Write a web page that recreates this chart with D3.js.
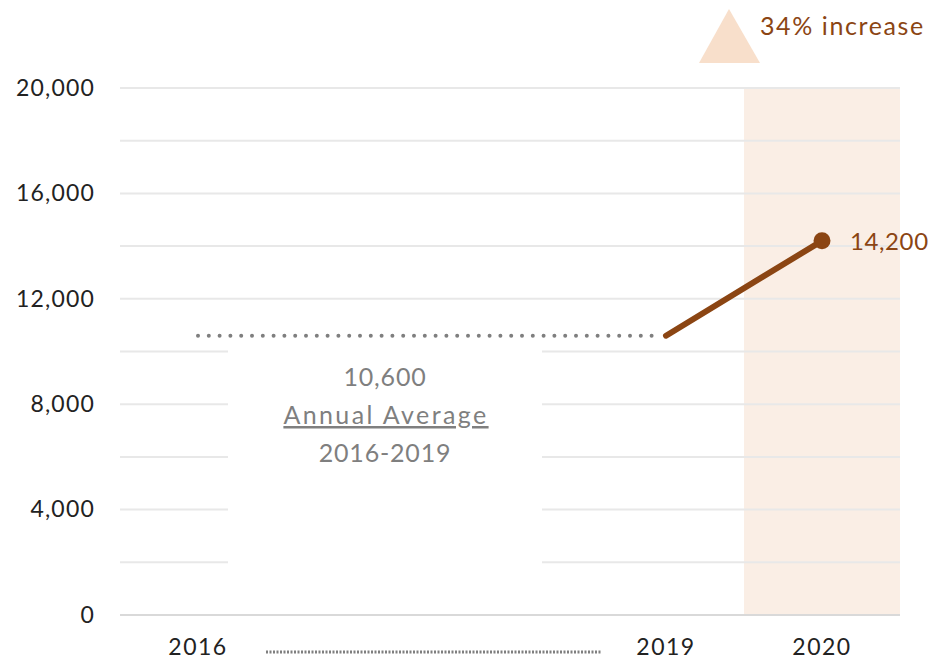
<!DOCTYPE html>
<html>
  <head>
    <meta charset="utf-8">
    <title>Annual Average vs 2020</title>
    <script src="https://d3js.org/d3.v7.min.js"></script>
    <style>
      body { margin: 0; background: #fff; }
      text { font-family: "Lato", "Open Sans", sans-serif; }
    </style>
  </head>
  <body>
    <div id="chart"></div>
    <script>
      // Data
      var years = ["2016", "2017", "2018", "2019", "2020"];
      var yearLabels = ["2016", "2019", "2020"];
      var avgValue = 10600;          // annual average 2016-2019
      var lineYears = ["2019", "2020"];
      var lineValues = [10600, 14200];
      var yTicks = [0, 4000, 8000, 12000, 16000, 20000];
      var yGrid = d3.range(0, 20001, 2000);
      var increaseText = "34% increase";
      var avgText = ["10,600", "Annual Average", "2016-2019"];

      var W = 930, H = 662;
      var brown = "#8B4513", grey = "#7F7F7F";

      var svg = d3.select("#chart").append("svg")
        .attr("width", W).attr("height", H);

      var x = d3.scaleBand().domain(years).range([120, 900]).padding(0);
      var cx = function(d) { return x(d) + x.bandwidth() / 2; };
      var y = d3.scaleLinear().domain([0, 20000]).range([615, 88]);

      // highlighted 2020 band
      svg.append("rect")
        .attr("x", x("2020")).attr("width", x.bandwidth())
        .attr("y", y(20000)).attr("height", y(0) - y(20000))
        .attr("fill", "#FAEEE5");

      // gridlines
      svg.append("g").selectAll("line")
        .data(yGrid)
        .enter().append("line")
          .attr("x1", 120).attr("x2", 900)
          .attr("y1", function(d) { return y(d); })
          .attr("y2", function(d) { return y(d); })
          .attr("stroke", function(d) { return d === 0 ? "#D9D9D9" : "#E8E8E8"; })
          .attr("stroke-width", 2);

      // y axis labels
      var yAxis = svg.append("g")
        .attr("transform", "translate(120,0)")
        .call(d3.axisLeft(y).tickValues(yTicks).tickSize(0).tickPadding(25)
          .tickFormat(d3.format(",")));
      yAxis.select(".domain").remove();
      yAxis.selectAll("text").attr("font-size", 23).attr("fill", "#222")
        .attr("letter-spacing", 1.2)
        .style("font-family", "Lato, sans-serif");

      // x axis labels
      var xAxis = svg.append("g")
        .attr("transform", "translate(0,615)")
        .call(d3.axisBottom(x).tickValues(yearLabels).tickSize(0).tickPadding(24));
      xAxis.select(".domain").remove();
      xAxis.selectAll("text").attr("font-size", 23).attr("fill", "#222")
        .attr("letter-spacing", 1.5)
        .style("font-family", "Lato, sans-serif");

      // dotted line standing in for 2017-2018
      svg.append("line")
        .attr("x1", cx("2016") + 68).attr("x2", cx("2019") - 65)
        .attr("y1", 652).attr("y2", 652)
        .attr("stroke", grey).attr("stroke-width", 3)
        .attr("stroke-dasharray", "2 1.5");

      // white box behind the average annotation
      svg.append("rect")
        .attr("x", 228).attr("width", 314)
        .attr("y", 345).attr("height", 258)
        .attr("fill", "#fff");

      // average dotted line
      svg.append("line")
        .attr("x1", cx("2016")).attr("x2", cx("2019") - 6)
        .attr("y1", y(avgValue)).attr("y2", y(avgValue))
        .attr("stroke", grey).attr("stroke-width", 4)
        .attr("stroke-linecap", "round")
        .attr("stroke-dasharray", "0 10.8");

      // average annotation text
      var at = svg.append("g").attr("fill", grey).attr("text-anchor", "middle")
        .attr("font-size", 25);
      at.selectAll("text").data(avgText).enter().append("text")
        .attr("x", function(d, i) { return i === 1 ? 386 : 385; })
        .attr("y", function(d, i) { return 386 + i * 38; })
        .attr("letter-spacing", function(d, i) { return i === 1 ? 2.4 : 0.8; })
        .style("text-decoration", function(d, i) { return i === 1 ? "underline" : null; })
        .text(function(d) { return d; });

      // 2019 -> 2020 line
      var pts = lineYears.map(function(d, i) { return [cx(d), y(lineValues[i])]; });
      svg.append("path")
        .attr("d", d3.line()(pts))
        .attr("fill", "none").attr("stroke", brown).attr("stroke-width", 6)
        .attr("stroke-linecap", "round");
      svg.append("circle")
        .attr("cx", pts[1][0]).attr("cy", pts[1][1]).attr("r", 8.5)
        .attr("fill", brown);
      svg.append("text")
        .attr("x", pts[1][0] + 28).attr("y", pts[1][1] + 9)
        .attr("font-size", 24).attr("fill", brown).attr("letter-spacing", 0.6)
        .text(d3.format(",")(lineValues[1]));

      // increase marker
      svg.append("path")
        .attr("d", "M729,9 L760,63 L699,63 Z")
        .attr("fill", "#F8DFCB");
      svg.append("text")
        .attr("x", 760).attr("y", 35)
        .attr("font-size", 25).attr("fill", brown).attr("letter-spacing", 1.6)
        .text(increaseText);
    </script>
  </body>
</html>
